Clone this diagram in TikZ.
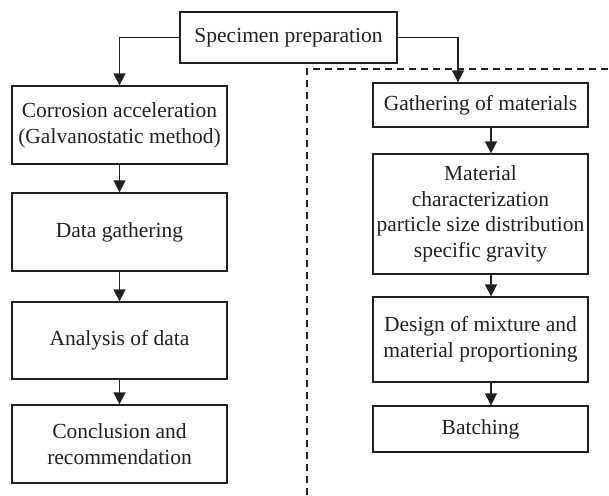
\documentclass[tikz,border=0pt]{standalone}
\usepackage{fontspec}
\setmainfont{Liberation Serif}
\usetikzlibrary{arrows.meta,calc}
\definecolor{ink}{HTML}{231F20}
\begin{document}
\begin{tikzpicture}[x=1pt,y=-1pt,
  box/.style={draw=ink,line width=1.3pt,text=ink,inner sep=0pt,align=center,
    font=\fontsize{21.5}{25.7}\selectfont},
  flow/.style={draw=ink,line width=1.4pt,-{Triangle[length=12pt,width=12pt]}},
  sep/.style={draw=ink,line width=1.1pt,dash pattern=on 7pt off 5pt}]
\useasboundingbox (0,0) rectangle (609,495);
% boxes
\node[box,minimum width=217pt,minimum height=51pt] (spec) at (288.5,37.5) {Specimen preparation};
\node[box,minimum width=215pt,minimum height=78pt] (cor) at (119.5,125) {Corrosion acceleration\\(Galvanostatic method)};
\node[box,minimum width=215pt,minimum height=78pt] (data) at (119.5,232) {Data gathering};
\node[box,minimum width=215pt,minimum height=77pt] (ana) at (119.5,340.5) {Analysis of data};
\node[box,minimum width=215pt,minimum height=78pt] (con) at (119.5,444) {Conclusion and\\recommendation};
\node[box,minimum width=215pt,minimum height=44pt] (gat) at (480.5,105) {Gathering of materials};
\node[box,minimum width=215pt,minimum height=120pt] (mat) at (480.5,214) {Material\\characterization\\particle size distribution\\specific gravity};
\node[box,minimum width=215pt,minimum height=85pt] (des) at (480.5,339.5) {Design of mixture and\\material proportioning};
\node[box,minimum width=215pt,minimum height=46pt] (bat) at (480.5,429) {Batching};
% dashed separator
\coordinate (d1) at (307,495);
\coordinate (d2) at (307,69);
\coordinate (d3) at (609,69);
\draw[sep] (d1) -- (d2) -- (d3);
% connectors
\coordinate (rj) at (458,0);
\coordinate (rc) at (491,0);
\draw[flow] (spec.west) -| (cor.north);
\draw[flow] (spec.east) -| (rj |- gat.north);
\draw[flow] (cor.south) -- (data.north);
\draw[flow] (data.south) -- (ana.north);
\draw[flow] (ana.south) -- (con.north);
\draw[flow] (rc |- gat.south) -- (rc |- mat.north);
\draw[flow] (rc |- mat.south) -- (rc |- des.north);
\draw[flow] (rc |- des.south) -- (rc |- bat.north);
\end{tikzpicture}
\end{document}
